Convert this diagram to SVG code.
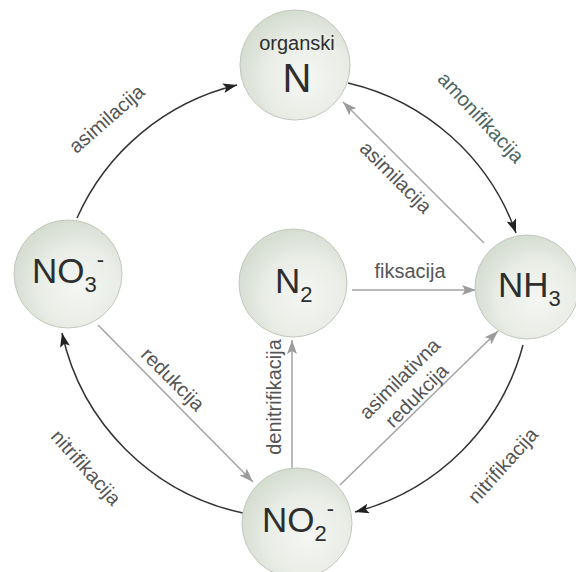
<svg xmlns="http://www.w3.org/2000/svg" width="576" height="572" viewBox="0 0 576 572">
<style>
.node circle{fill:url(#g);stroke:#c3c8bf;stroke-width:1}
.big{font-family:"Liberation Sans",Arial,sans-serif;font-size:35px;fill:#2e2e2e}
.sub{font-size:22px}
.lbl{font-family:"Liberation Sans",Arial,sans-serif;font-size:20px;fill:#555}
.blk{fill:none;stroke:#333;stroke-width:1.5;marker-end:url(#ab)}
.gry{fill:none;stroke:#a3a3a3;stroke-width:1.5;marker-end:url(#ag)}
</style>
<defs>
<radialGradient id="g" cx="0.6" cy="0.62" r="0.62">
<stop offset="0" stop-color="#f5f6f3"/>
<stop offset="0.6" stop-color="#e9ede6"/>
<stop offset="1" stop-color="#d6ddd1"/>
</radialGradient>
<marker id="ab" markerUnits="userSpaceOnUse" markerWidth="16" markerHeight="12" refX="14" refY="5" orient="auto"><path d="M0,0 L14,5 L0,10 L3,5 z" fill="#222"/></marker>
<marker id="ag" markerUnits="userSpaceOnUse" markerWidth="16" markerHeight="12" refX="14" refY="5" orient="auto"><path d="M0,0 L14,5 L0,10 L3,5 z" fill="#9c9c9c"/></marker>
</defs>
<rect width="576" height="572" fill="#fff"/>
<g id="connectors">
<path class="blk" d="M77,218 A235,235 0 0 1 237,85"/>
<path class="blk" d="M348,83 A235,235 0 0 1 516,233"/>
<path class="blk" d="M523,345 A235,235 0 0 1 355,512"/>
<path class="blk" d="M243,513 A235,235 0 0 1 62,333"/>
<path class="gry" d="M484,243 L343,102"/>
<path class="gry" d="M352,290 L476,290"/>
<path class="gry" d="M98,325 L253,482"/>
<path class="gry" d="M292,468 L292,340"/>
<path class="gry" d="M340,485 L498,331"/>
<text class="lbl" transform="translate(111,124) rotate(-41)" text-anchor="middle">asimilacija</text>
<text class="lbl" transform="translate(476,122) rotate(47)" text-anchor="middle" style="fill:#4a6660">amonifikacija</text>
<text class="lbl" transform="translate(391,182) rotate(45)" text-anchor="middle">asimilacija</text>
<text class="lbl" x="410" y="278" text-anchor="middle">fiksacija</text>
<text class="lbl" transform="translate(168,384) rotate(45)" text-anchor="middle">redukcija</text>
<text class="lbl" transform="translate(281,397) rotate(-90)" text-anchor="middle">denitrifikacija</text>
<g transform="translate(408,387) rotate(-45)">
<text class="lbl" x="0" y="-5" text-anchor="middle">asimilativna</text>
<text class="lbl" x="0" y="19" text-anchor="middle">redukcija</text>
</g>
<text class="lbl" transform="translate(81,472) rotate(48)" text-anchor="middle">nitrifikacija</text>
<text class="lbl" transform="translate(508,470) rotate(-48)" text-anchor="middle">nitrifikacija</text>
</g>
<g id="orgN" class="node">
<circle cx="295" cy="65" r="55"/>
<text class="big" x="297" y="50" text-anchor="middle" style="font-size:20px">organski</text>
<text class="big" x="297" y="92" text-anchor="middle" style="font-size:40px">N</text>
</g>
<g id="NO3" class="node">
<circle cx="68" cy="274" r="54"/>
<text class="big" x="32" y="283">NO<tspan class="sub" dy="9">3</tspan><tspan class="sub" dy="-25">-</tspan></text>
</g>
<g id="N2" class="node">
<circle cx="293" cy="283" r="54"/>
<text class="big" x="275" y="293">N<tspan class="sub" dy="9">2</tspan></text>
</g>
<g id="NH3" class="node">
<circle cx="527" cy="287" r="52"/>
<text class="big" x="498" y="297">NH<tspan class="sub" dy="9">3</tspan></text>
</g>
<g id="NO2" class="node">
<circle cx="297" cy="523" r="55"/>
<text class="big" x="262" y="532">NO<tspan class="sub" dy="9">2</tspan><tspan class="sub" dy="-25">-</tspan></text>
</g>
</svg>
